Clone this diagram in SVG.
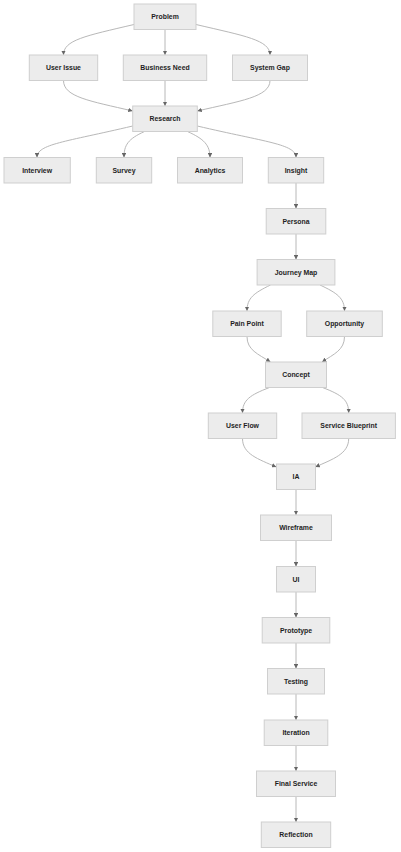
<svg xmlns="http://www.w3.org/2000/svg" width="401" height="852" viewBox="0 0 401 852">
<style>
.n rect{fill:#ececec;stroke:#cfcfcf;stroke-width:1}
.n text{font-family:"Liberation Sans",Arial,sans-serif;font-size:6.9px;font-weight:bold;fill:#1e1e1e;text-anchor:middle}
.e path{fill:none;stroke:#b8b8b8;stroke-width:1}
</style>
<defs>
<marker id="ah" viewBox="0 0 10 10" refX="10" refY="5" markerWidth="4.5" markerHeight="4.5" markerUnits="userSpaceOnUse" orient="auto">
<path d="M0,0 L10,5 L0,10 z" fill="#666"/>
</marker>
</defs>
<rect width="401" height="852" fill="#fff"/>
<g id="edges" class="e">
<path marker-end="url(#ah)" d="M134,24.5 C85,36 63.5,40 63.5,55"/>
<path marker-end="url(#ah)" d="M165,29.5 L165,55"/>
<path marker-end="url(#ah)" d="M196,24.5 C245,36 270,40 270,55"/>
<path marker-end="url(#ah)" d="M63.5,80.5 C63.5,97 90,101 132.7,111"/>
<path marker-end="url(#ah)" d="M165,80.5 L165,106"/>
<path marker-end="url(#ah)" d="M270,80.5 C270,97 240,101 197.3,111"/>
<path marker-end="url(#ah)" d="M132.7,126 C65,142 37,144 37,157.5"/>
<path marker-end="url(#ah)" d="M144.5,131.5 C128,139 124,145 124,157.5"/>
<path marker-end="url(#ah)" d="M187.5,131.5 C204,139 210,145 210,157.5"/>
<path marker-end="url(#ah)" d="M197.3,126 C265,142 296,144 296,157.5"/>
<path marker-end="url(#ah)" d="M296,183 L296,208.5"/>
<path marker-end="url(#ah)" d="M296,234 L296,259.5"/>
<path marker-end="url(#ah)" d="M270.5,285 C254,293 247,298 247,311"/>
<path marker-end="url(#ah)" d="M320,285 C337,293 344.5,298 344.5,311"/>
<path marker-end="url(#ah)" d="M247,336.5 C247,350 258,354 270.5,362"/>
<path marker-end="url(#ah)" d="M344.5,336.5 C344.5,350 334,354 322,362"/>
<path marker-end="url(#ah)" d="M269.5,387.5 C250,395 242.5,400 242.5,413"/>
<path marker-end="url(#ah)" d="M322.5,387.5 C342,395 348.7,400 348.7,413"/>
<path marker-end="url(#ah)" d="M242.5,438.5 C242.5,454 258,459 276.3,467"/>
<path marker-end="url(#ah)" d="M348.7,438.5 C348.7,454 333,459 315.3,467"/>
<path marker-end="url(#ah)" d="M296,489.5 L296,515"/>
<path marker-end="url(#ah)" d="M296,540.5 L296,566.5"/>
<path marker-end="url(#ah)" d="M296,592 L296,617.5"/>
<path marker-end="url(#ah)" d="M296,643 L296,668.5"/>
<path marker-end="url(#ah)" d="M296,694 L296,720"/>
<path marker-end="url(#ah)" d="M296,745.5 L296,771"/>
<path marker-end="url(#ah)" d="M296,796.5 L296,822"/>
</g>
<g id="problem" class="n"><rect x="134" y="4" width="62" height="25.5"/><text x="165" y="19.2">Problem</text></g>
<g id="userissue" class="n"><rect x="29.3" y="55" width="68.4" height="25.5"/><text x="63.5" y="70.2">User Issue</text></g>
<g id="businessneed" class="n"><rect x="123.3" y="55" width="83.4" height="25.5"/><text x="165" y="70.2">Business Need</text></g>
<g id="systemgap" class="n"><rect x="232.5" y="55" width="75" height="25.5"/><text x="270" y="70.2">System Gap</text></g>
<g id="research" class="n"><rect x="132.7" y="106" width="64.6" height="25.5"/><text x="165" y="121.2">Research</text></g>
<g id="interview" class="n"><rect x="4" y="157.5" width="66.3" height="25.5"/><text x="37.1" y="172.7">Interview</text></g>
<g id="survey" class="n"><rect x="96.3" y="157.5" width="55.4" height="25.5"/><text x="124" y="172.7">Survey</text></g>
<g id="analytics" class="n"><rect x="177.5" y="157.5" width="65" height="25.5"/><text x="210" y="172.7">Analytics</text></g>
<g id="insight" class="n"><rect x="268.3" y="157.5" width="55.4" height="25.5"/><text x="296" y="172.7">Insight</text></g>
<g id="persona" class="n"><rect x="266.2" y="208.5" width="59.6" height="25.5"/><text x="296" y="223.7">Persona</text></g>
<g id="journeymap" class="n"><rect x="257.1" y="259.5" width="77.8" height="25.5"/><text x="296" y="274.7">Journey Map</text></g>
<g id="painpoint" class="n"><rect x="212.8" y="311" width="68.4" height="25.5"/><text x="247" y="326.2">Pain Point</text></g>
<g id="opportunity" class="n"><rect x="306.7" y="311" width="75.6" height="25.5"/><text x="344.5" y="326.2">Opportunity</text></g>
<g id="concept" class="n"><rect x="265.5" y="362" width="61" height="25.5"/><text x="296" y="377.2">Concept</text></g>
<g id="userflow" class="n"><rect x="208.3" y="413" width="68.4" height="25.5"/><text x="242.5" y="428.2">User Flow</text></g>
<g id="serviceblueprint" class="n"><rect x="302" y="413" width="93.4" height="25.5"/><text x="348.7" y="428.2">Service Blueprint</text></g>
<g id="ia" class="n"><rect x="276.5" y="464" width="39" height="25.5"/><text x="296" y="479.2">IA</text></g>
<g id="wireframe" class="n"><rect x="260.5" y="515" width="71" height="25.5"/><text x="296" y="530.2">Wireframe</text></g>
<g id="ui" class="n"><rect x="276.5" y="566.5" width="39" height="25.5"/><text x="296" y="581.7">UI</text></g>
<g id="prototype" class="n"><rect x="262.2" y="617.5" width="67.6" height="25.5"/><text x="296" y="632.7">Prototype</text></g>
<g id="testing" class="n"><rect x="267.5" y="668.5" width="57" height="25.5"/><text x="296" y="683.7">Testing</text></g>
<g id="iteration" class="n"><rect x="264.2" y="720" width="63.6" height="25.5"/><text x="296" y="735.2">Iteration</text></g>
<g id="finalservice" class="n"><rect x="256.5" y="771" width="79" height="25.5"/><text x="296" y="786.2">Final Service</text></g>
<g id="reflection" class="n"><rect x="261.3" y="822" width="69.4" height="25.5"/><text x="296" y="837.2">Reflection</text></g>
</svg>
